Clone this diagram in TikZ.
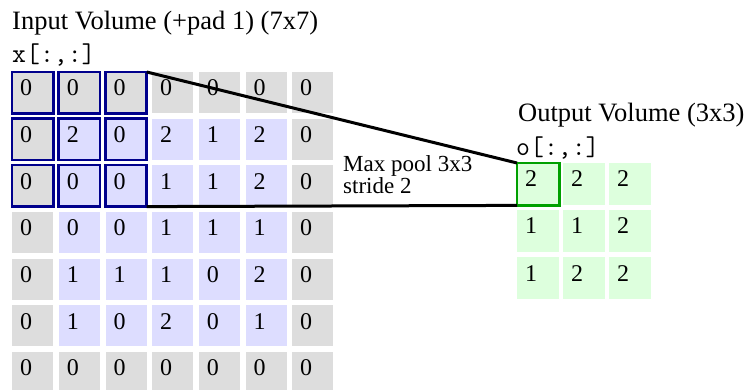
\documentclass[tikz,border=0pt]{standalone}
\usepackage{fontspec}
\setmainfont{Liberation Serif}
\usepackage{tikz}
\usetikzlibrary{positioning}

\definecolor{padgray}{RGB}{221,221,221}
\definecolor{inblue}{RGB}{221,221,255}
\definecolor{outgreen}{RGB}{221,255,221}
\definecolor{winblue}{RGB}{0,0,140}
\definecolor{wingreen}{RGB}{0,160,0}

\begin{document}
\begin{tikzpicture}[
      x = 1pt, y = -1pt,
      every node/.style = {font=\fontsize{24}{28}\selectfont},
      cell/.style = {
        rectangle, anchor=north west, inner sep=0pt,
        minimum width=41pt, minimum height=41pt
      },
      ocell/.style = {cell, fill=outgreen, minimum width=42pt, minimum height=42pt},
      digit/.style = {anchor=base west, inner sep=0pt},
      heading/.style = {anchor=base west, inner sep=0pt,
                        font=\fontsize{26.5}{30}\selectfont},
      idx/.style = {anchor=base west, inner sep=0pt,
                    font=\ttfamily\fontsize{27}{30}\selectfont},
      note/.style = {anchor=base west, inner sep=0pt, align=left,
                     font=\fontsize{23}{22.5}\selectfont},
      winin/.style  = {draw=winblue, line width=2.5pt},
      winout/.style = {draw=wingreen, line width=2.5pt},
      link/.style = {line width=3pt, black},
    ]
    \useasboundingbox (0,0) rectangle (747,390);

    % input volume, zero border in gray
    \node[heading] (intitle) at (12,30) {Input Volume (+pad 1) (7x7)};
    \node[idx] (inidx) at (12,63) {x[:,:]};
    \foreach \row [count=\r from 0] in {{0,0,0,0,0,0,0},{0,2,0,2,1,2,0},
        {0,0,0,1,1,2,0},{0,0,0,1,1,1,0},{0,1,1,1,0,2,0},
        {0,1,0,2,0,1,0},{0,0,0,0,0,0,0}} {
      \foreach \v [count=\c from 0] in \row {
        \pgfmathsetmacro\cx{12+46.67*\c}
        \pgfmathsetmacro\cy{72+46.6*\r}
        \pgfmathtruncatemacro\edge{(\r==0)||(\r==6)||(\c==0)||(\c==6)}
        \ifnum\edge=1 \def\cellcol{padgray}\else\def\cellcol{inblue}\fi
        \node[cell, fill=\cellcol] (in-\r-\c) at (\cx,\cy) {};
        \node[digit] (d-\r-\c) at ([xshift=8pt,yshift=-24pt]in-\r-\c.north west) {\v};
      }
    }
    % 3x3 window
    \foreach \r in {0,1,2} {
      \foreach \c in {0,1,2} {
        \draw[winin] (in-\r-\c.north west) rectangle (in-\r-\c.south east);
      }
    }

    % output volume
    \node[heading] (outtitle) at (518,122) {Output Volume (3x3)};
    \node[idx] (outidx) at (516,156) {o[:,:]};
    \foreach \row [count=\r from 0] in {{2,2,2},{1,1,2},{1,2,2}} {
      \foreach \v [count=\c from 0] in \row {
        \pgfmathsetmacro\cx{517+46*\c}
        \pgfmathsetmacro\cy{163+47*\r}
        \node[ocell] (out-\r-\c) at (\cx,\cy) {};
        \node[digit] (o-\r-\c) at ([xshift=8pt,yshift=-24pt]out-\r-\c.north west) {\v};
      }
    }
    \draw[winout] (out-0-0.north west) rectangle (out-0-0.south east);

    % window to output cell
    \draw[link] (in-0-2.north east) -- (out-0-0.north west);
    \draw[link] (in-2-2.south east) -- (out-0-0.south west);
    \node[note] (pool) at (343,194) {Max pool 3x3\\stride 2};
\end{tikzpicture}
\end{document}
